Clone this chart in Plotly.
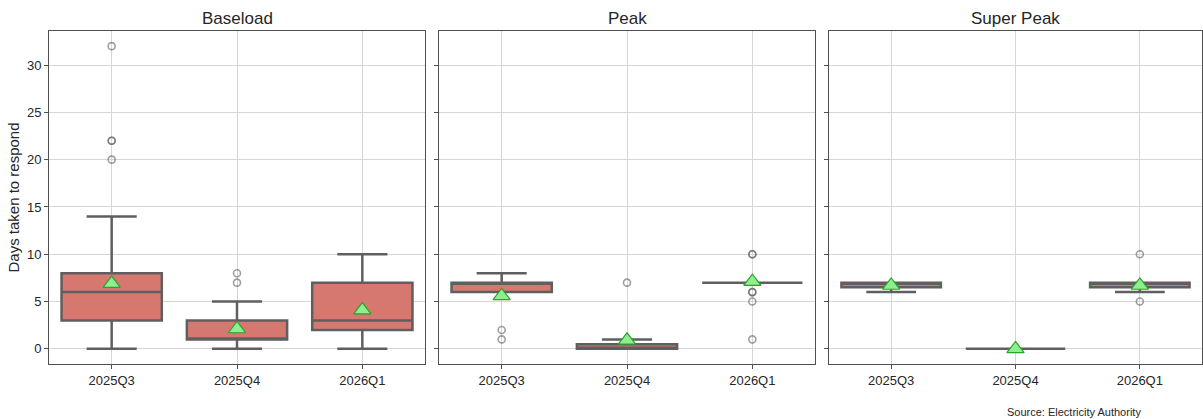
import plotly.graph_objects as go

categories = ["2025Q3", "2025Q4", "2026Q1"]
panels = ["Baseload", "Peak", "Super Peak"]

# box statistics per panel (order of categories)
q1 = {"Baseload": [3, 1, 2], "Peak": [6, 0, 7], "Super Peak": [6.5, 0, 6.5]}
median = {"Baseload": [6, 1, 3], "Peak": [7, 0, 7], "Super Peak": [7, 0, 7]}
q3 = {"Baseload": [8, 3, 7], "Peak": [7, 0.5, 7], "Super Peak": [7, 0, 7]}
lower = {"Baseload": [0, 0, 0], "Peak": [6, 0, 7], "Super Peak": [6, 0, 6]}
upper = {"Baseload": [14, 5, 10], "Peak": [8, 1, 7], "Super Peak": [7, 0, 7]}
means = {"Baseload": [6.9, 2.1, 4.1], "Peak": [5.6, 0.9, 7.1], "Super Peak": [6.7, 0.0, 6.7]}

# outliers: (category, value)
outlier_cat = {
    "Baseload": ["2025Q3", "2025Q3", "2025Q3", "2025Q3", "2025Q4", "2025Q4"],
    "Peak": ["2025Q3", "2025Q3", "2025Q4", "2026Q1", "2026Q1", "2026Q1", "2026Q1", "2026Q1", "2026Q1"],
    "Super Peak": ["2026Q1", "2026Q1"],
}
outlier_val = {
    "Baseload": [20, 22, 22, 32, 7, 8],
    "Peak": [2, 1, 7, 10, 10, 6, 6, 5, 1],
    "Super Peak": [10, 5],
}

y_ticks = [0, 5, 10, 15, 20, 25, 30]
y_title = "Days taken to respond"
source = "Source: Electricity Authority"

W, H = 1203, 419
domains = [(49 / W, 425 / W), (439 / W, 815 / W), (829 / W, 1202 / W)]

BOX_FILL = "rgb(215,120,112)"
LINE = "rgb(95,95,95)"
GRID = "rgb(214,214,214)"
FRAME = "rgb(80,80,80)"

fig = go.Figure()
for i, p in enumerate(panels):
    ax = "" if i == 0 else str(i + 1)
    fig.add_trace(go.Box(
        x=categories, q1=q1[p], median=median[p], q3=q3[p],
        lowerfence=lower[p], upperfence=upper[p],
        boxpoints=False, width=0.8, whiskerwidth=0.5,
        fillcolor=BOX_FILL, line=dict(color=LINE, width=2.5),
        xaxis="x" + ax, yaxis="y" + ax, showlegend=False, hoverinfo="skip",
    ))
    fig.add_trace(go.Scatter(
        x=outlier_cat[p], y=outlier_val[p], mode="markers",
        marker=dict(symbol="circle-open", size=7, color="rgba(95,95,95,0.6)",
                    line=dict(width=1.6)),
        xaxis="x" + ax, yaxis="y" + ax, showlegend=False,
    ))
    fig.add_trace(go.Scatter(
        x=categories, y=means[p], mode="markers",
        marker=dict(symbol="triangle-up", size=15, color="#90ee90",
                    line=dict(color="#2ca02c", width=1.2)),
        xaxis="x" + ax, yaxis="y" + ax, showlegend=False,
    ))

layout = dict(
    width=W, height=H,
    margin=dict(l=0, r=0, t=31, b=55),
    paper_bgcolor="white", plot_bgcolor="white",
    font=dict(family="Liberation Sans, Arial, sans-serif", color="#262626"),
    boxmode="overlay",
    annotations=[],
)
for i, p in enumerate(panels):
    ax = "" if i == 0 else str(i + 1)
    layout["xaxis" + ax] = dict(
        domain=list(domains[i]), anchor="y" + ax,
        type="category", categoryorder="array", categoryarray=categories,
        range=[-0.5, 2.5],
        showgrid=True, gridcolor=GRID, gridwidth=1,
        showline=True, linecolor=FRAME, linewidth=1, mirror=True,
        ticks="outside", ticklen=4, tickcolor=FRAME,
        tickfont=dict(size=13, color="#262626"), zeroline=False,
    )
    layout["yaxis" + ax] = dict(
        domain=[0, 1], anchor="x" + ax,
        range=[-1.6, 33.6], tickvals=y_ticks,
        showticklabels=(i == 0),
        showgrid=True, gridcolor=GRID, gridwidth=1,
        showline=True, linecolor=FRAME, linewidth=1, mirror=True,
        ticks="outside", ticklen=4, tickcolor=FRAME,
        tickfont=dict(size=13, color="#262626"), zeroline=False,
    )
    if i > 0:
        layout["yaxis" + ax]["matches"] = "y"
    layout["annotations"].append(dict(
        text=p, xref="x" + ax + " domain", yref="paper",
        x=0.5, y=1, xanchor="center", yanchor="bottom", yshift=1,
        showarrow=False, font=dict(size=17, color="#262626"),
    ))
layout["yaxis"]["title"] = dict(text=y_title, font=dict(size=15, color="#262626"), standoff=3)
layout["annotations"].append(dict(
    text=source, xref="paper", yref="paper", x=1143 / W, y=(364 - 412) / 333,
    xanchor="right", yanchor="middle", showarrow=False,
    font=dict(size=11, color="#262626"),
))
fig.update_layout(**layout)
fig.write_html("out.html")
